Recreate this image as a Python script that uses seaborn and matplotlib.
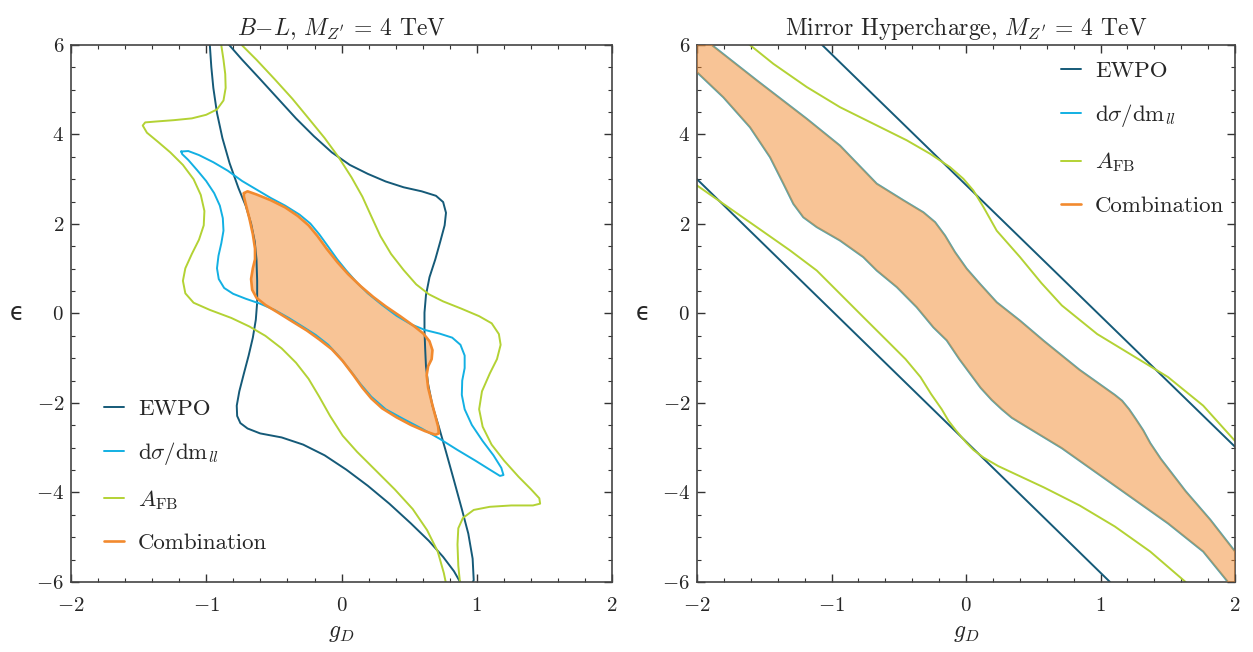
import numpy as np
import matplotlib
matplotlib.use("Agg")
import matplotlib.pyplot as plt
import seaborn as sns
from matplotlib.ticker import MultipleLocator
from matplotlib.colors import to_rgba

# ---- B-L panel contours (g_D, epsilon) ----
bl_ewpo_x = [-0.979, -0.974, -0.963, -0.948, -0.921, -0.881, -0.828, -0.762, -0.709, -0.669,
             -0.642, -0.629, -0.624, -0.624, -0.634, -0.656, -0.687, -0.722, -0.756, -0.775,
             -0.772, -0.748, -0.695, -0.602, -0.443, -0.284, -0.125, 0.035, 0.194, 0.353,
             0.512, 0.645, 0.751, 0.831, 0.884, 0.924, 0.977, 0.969, 0.937, 0.889,
             0.831, 0.772, 0.719, 0.672, 0.640, 0.624, 0.618, 0.613, 0.613, 0.624,
             0.650, 0.693, 0.730, 0.762, 0.772, 0.751, 0.698, 0.592, 0.459, 0.326,
             0.194, 0.061, -0.072, -0.204, -0.337, -0.470, -0.603, -0.735, -0.828, -0.894,
             -0.948, -0.979]
bl_ewpo_y = [6.39, 6.00, 5.51, 5.04, 4.48, 3.92, 3.36, 2.80, 2.41, 2.01,
             1.61, 1.21, 0.73, 0.25, -0.14, -0.54, -0.94, -1.34, -1.74, -2.06,
             -2.29, -2.45, -2.57, -2.68, -2.77, -2.93, -3.17, -3.49, -3.85, -4.25,
             -4.69, -5.08, -5.44, -5.76, -6.04, -6.28, -5.96, -5.48, -4.92, -4.37,
             -3.73, -3.09, -2.53, -2.06, -1.58, -1.18, -0.78, -0.38, 0.02, 0.41,
             0.81, 1.21, 1.61, 1.97, 2.25, 2.49, 2.63, 2.73, 2.82, 2.95,
             3.12, 3.32, 3.60, 3.96, 4.36, 4.80, 5.24, 5.67, 5.99, 6.19,
             6.39, 6.39]

bl_dsig_x = [-1.186, -1.133, -1.054, -0.948, -0.841, -0.735, -0.629, -0.523, -0.417, -0.311,
             -0.231, -0.165, -0.098, -0.032, 0.035, 0.114, 0.194, 0.300, 0.406, 0.512,
             0.618, 0.725, 0.818, 0.879, 0.910, 0.910, 0.892, 0.889, 0.910, 0.963,
             1.043, 1.123, 1.181, 1.197, 1.171, 1.096, 0.990, 0.857, 0.725, 0.592,
             0.459, 0.326, 0.220, 0.141, 0.061, -0.019, -0.098, -0.191, -0.284, -0.390,
             -0.496, -0.603, -0.709, -0.802, -0.868, -0.908, -0.921, -0.910, -0.889, -0.873,
             -0.878, -0.900, -0.942, -1.001, -1.067, -1.133, -1.178, -1.186]
bl_dsig_y = [3.62, 3.63, 3.54, 3.38, 3.19, 2.96, 2.77, 2.58, 2.41, 2.21,
             2.01, 1.77, 1.49, 1.21, 0.96, 0.69, 0.45, 0.19, -0.05, -0.24,
             -0.37, -0.45, -0.54, -0.70, -0.94, -1.22, -1.50, -1.82, -2.14, -2.49,
             -2.85, -3.17, -3.45, -3.61, -3.63, -3.49, -3.29, -3.05, -2.80, -2.57,
             -2.36, -2.14, -1.86, -1.58, -1.26, -0.96, -0.70, -0.48, -0.30, -0.10,
             0.08, 0.22, 0.33, 0.44, 0.57, 0.77, 1.01, 1.29, 1.57, 1.85,
             2.13, 2.41, 2.69, 2.96, 3.20, 3.43, 3.56, 3.62]

bl_afb_x = [-0.828, -0.881, -0.889, -0.873, -0.860, -0.857, -0.873, -0.921, -1.001, -1.107,
            -1.240, -1.372, -1.452, -1.470, -1.439, -1.359, -1.266, -1.173, -1.094, -1.041,
            -1.014, -1.019, -1.054, -1.107, -1.155, -1.173, -1.155, -1.094, -0.974, -0.815,
            -0.682, -0.563, -0.443, -0.337, -0.244, -0.165, -0.085, 0.008, 0.114, 0.247,
            0.393, 0.526, 0.632, 0.711, 0.756, 0.778, 0.831, 0.879, 0.863, 0.857,
            0.863, 0.897, 0.977, 1.096, 1.255, 1.415, 1.468, 1.462, 1.401, 1.309,
            1.202, 1.109, 1.043, 1.017, 1.038, 1.096, 1.149, 1.176, 1.163, 1.110,
            1.017, 0.884, 0.751, 0.645, 0.552, 0.459, 0.366, 0.287, 0.220, 0.154,
            0.074, -0.019, -0.125, -0.244, -0.364, -0.496, -0.629, -0.735, -0.788, -0.828]
bl_afb_y = [6.47, 6.23, 5.99, 5.67, 5.35, 5.04, 4.76, 4.56, 4.44, 4.36,
            4.32, 4.29, 4.27, 4.20, 4.04, 3.84, 3.60, 3.32, 3.00, 2.65,
            2.29, 1.97, 1.65, 1.33, 1.01, 0.73, 0.45, 0.24, 0.08, -0.10,
            -0.29, -0.50, -0.78, -1.10, -1.46, -1.86, -2.29, -2.73, -3.09, -3.49,
            -3.93, -4.37, -4.84, -5.32, -5.80, -6.12, -6.36, -6.12, -5.64, -5.16,
            -4.80, -4.57, -4.39, -4.32, -4.29, -4.29, -4.25, -4.13, -3.93, -3.65,
            -3.29, -2.93, -2.53, -2.14, -1.74, -1.34, -1.02, -0.70, -0.46, -0.22,
            -0.06, 0.11, 0.27, 0.43, 0.65, 0.97, 1.33, 1.73, 2.17, 2.61,
            3.04, 3.48, 3.92, 4.36, 4.80, 5.24, 5.67, 5.99, 6.23, 6.47]

bl_comb_x = [-0.722, -0.695, -0.629, -0.523, -0.417, -0.324, -0.244, -0.178, -0.111, -0.032,
             0.048, 0.141, 0.234, 0.326, 0.433, 0.539, 0.605, 0.650, 0.672, 0.666,
             0.640, 0.629, 0.640, 0.666, 0.693, 0.714, 0.719, 0.693, 0.618, 0.512,
             0.406, 0.300, 0.220, 0.154, 0.088, 0.008, -0.072, -0.165, -0.257, -0.364,
             -0.470, -0.563, -0.629, -0.661, -0.669, -0.656, -0.640, -0.640, -0.656, -0.682,
             -0.709, -0.722, -0.722]
bl_comb_y = [2.69, 2.73, 2.66, 2.53, 2.37, 2.18, 1.97, 1.73, 1.45, 1.15,
             0.88, 0.61, 0.37, 0.16, -0.06, -0.29, -0.45, -0.62, -0.82, -1.02,
             -1.18, -1.38, -1.66, -1.98, -2.29, -2.53, -2.68, -2.71, -2.63, -2.49,
             -2.32, -2.12, -1.90, -1.66, -1.38, -1.06, -0.80, -0.58, -0.38, -0.18,
             0.02, 0.19, 0.35, 0.53, 0.77, 1.01, 1.21, 1.45, 1.77, 2.13,
             2.45, 2.61, 2.69]

# ---- Mirror hypercharge panel ----
mh_ewpo_hi_x = [-1.07, 2.0]
mh_ewpo_hi_y = [6.0, -2.98]
mh_ewpo_lo_x = [-2.0, 1.07]
mh_ewpo_lo_y = [3.0, -6.0]

mh_afb_hi_x = [-1.619, -1.433, -1.184, -0.937, -0.689, -0.441, -0.268, -0.119, -0.020, 0.054,
               0.129, 0.228, 0.401, 0.560, 0.712, 0.975, 1.238, 1.501, 1.763, 2.0]
mh_afb_hi_y = [6.03, 5.58, 5.06, 4.61, 4.24, 3.87, 3.57, 3.27, 3.01, 2.75,
               2.38, 1.85, 1.26, 0.68, 0.18, -0.46, -0.94, -1.42, -2.06, -2.85]
mh_afb_lo_x = [-2.0, -1.804, -1.556, -1.309, -1.110, -0.937, -0.764, -0.590, -0.450, -0.339,
               -0.260, -0.181, -0.130, -0.076, 0.0, 0.055, 0.130, 0.239, 0.581, 0.844,
               1.106, 1.369, 1.632]
mh_afb_lo_y = [2.86, 2.45, 1.93, 1.41, 0.96, 0.44, -0.08, -0.60, -1.02, -1.42,
               -1.80, -2.14, -2.40, -2.61, -2.88, -3.05, -3.22, -3.41, -3.89, -4.29,
               -4.76, -5.32, -6.0]

mh_comb_hi_x = [-1.968, -1.903, -1.556, -1.184, -0.937, -0.664, -0.466, -0.317, -0.230, -0.156,
                -0.082, 0.005, 0.104, 0.228, 0.401, 0.581, 0.844, 1.106, 1.160, 1.212,
                1.260, 1.317, 1.370, 1.448, 1.632, 1.816, 2.0]
mh_comb_hi_y = [6.10, 6.03, 5.21, 4.35, 3.75, 2.90, 2.53, 2.26, 2.04, 1.74,
                1.37, 1.00, 0.66, 0.25, -0.16, -0.62, -1.26, -1.82, -1.95, -2.14,
                -2.35, -2.61, -2.90, -3.25, -3.97, -4.61, -5.32]
mh_comb_lo_x = [-2.0, -1.804, -1.606, -1.457, -1.358, -1.284, -1.210, -1.110, -0.937, -0.764,
                -0.664, -0.515, -0.367, -0.243, -0.144, -0.050, 0.108, 0.190, 0.265, 0.340,
                0.449, 0.712, 0.975, 1.238, 1.501, 1.763, 1.947]
mh_comb_lo_y = [5.39, 4.83, 4.16, 3.49, 2.90, 2.45, 2.15, 1.93, 1.63, 1.26,
                0.96, 0.59, 0.14, -0.31, -0.60, -1.02, -1.66, -1.93, -2.14, -2.33,
                -2.53, -3.01, -3.57, -4.13, -4.69, -5.32, -6.0]

c_ewpo = "#155a78"
c_dsig = "#12b0e3"
c_afb = "#b3d234"
c_comb = "#f28a2e"

sns.set_theme(style="ticks")
plt.rcParams["font.family"] = ["cmr10", "DejaVu Serif"]
plt.rcParams["mathtext.fontset"] = "cm"
plt.rcParams["axes.formatter.use_mathtext"] = True
plt.rcParams["axes.unicode_minus"] = True

fig = plt.figure(figsize=(12.53, 6.52), dpi=100)
ax1 = fig.add_axes([0.0567, 0.1074, 0.4318, 0.8236])
ax2 = fig.add_axes([0.5563, 0.1074, 0.4294, 0.8236])


def curve(ax, x, y, color, label=None, lw=1.4):
    sns.lineplot(x=x, y=y, sort=False, estimator=None, color=color, lw=lw,
                 label=label, ax=ax, legend=False)


# left panel
ax1.fill(bl_comb_x, bl_comb_y, color=c_comb, alpha=0.5, lw=0, zorder=1)
curve(ax1, bl_ewpo_x, bl_ewpo_y, c_ewpo, "EWPO")
curve(ax1, bl_dsig_x, bl_dsig_y, c_dsig, r"d$\sigma$/dm$_{ll}$")
curve(ax1, bl_afb_x, bl_afb_y, c_afb, r"$A_{\rm FB}$")
curve(ax1, bl_comb_x, bl_comb_y, c_comb, "Combination", lw=1.9)

# right panel
poly_x = mh_comb_hi_x + [2.0, 2.0] + mh_comb_lo_x[::-1] + [-2.0]
poly_y = mh_comb_hi_y + [-5.32, -6.0] + mh_comb_lo_y[::-1] + [6.10]
curve(ax2, mh_ewpo_hi_x, mh_ewpo_hi_y, c_ewpo, "EWPO")
curve(ax2, mh_ewpo_lo_x, mh_ewpo_lo_y, c_ewpo)
curve(ax2, mh_comb_hi_x, mh_comb_hi_y, c_dsig, r"d$\sigma$/dm$_{ll}$")
curve(ax2, mh_comb_lo_x, mh_comb_lo_y, c_dsig)
curve(ax2, mh_afb_hi_x, mh_afb_hi_y, c_afb, r"$A_{\rm FB}$")
curve(ax2, mh_afb_lo_x, mh_afb_lo_y, c_afb)
ax2.fill(poly_x, poly_y, facecolor=to_rgba(c_comb, 0.5), lw=0, zorder=3)
ax2.plot(mh_comb_hi_x, mh_comb_hi_y, color=c_comb, alpha=0.35, lw=1.4, zorder=4)
ax2.plot(mh_comb_lo_x, mh_comb_lo_y, color=c_comb, alpha=0.35, lw=1.4, zorder=4)
ax2.plot([], [], color=c_comb, lw=1.9, label="Combination")

titles = [r"$B{-}L$, $M_{Z^{\prime}}$ = 4 TeV",
          r"Mirror Hypercharge, $M_{Z^{\prime}}$ = 4 TeV"]
for ax, title in zip([ax1, ax2], titles):
    ax.set_xlim(-2, 2)
    ax.set_ylim(-6, 6)
    ax.xaxis.set_major_locator(MultipleLocator(1))
    ax.xaxis.set_minor_locator(MultipleLocator(0.2))
    ax.yaxis.set_major_locator(MultipleLocator(2))
    ax.yaxis.set_minor_locator(MultipleLocator(0.5))
    ax.tick_params(which="both", direction="in", top=True, right=True,
                   labelsize=15, color="#333333")
    ax.tick_params(which="major", length=6, width=1)
    ax.tick_params(which="minor", length=3, width=0.8)
    ax.tick_params(axis="x", which="major", pad=11)
    ax.tick_params(axis="y", which="major", pad=5)
    for s in ax.spines.values():
        s.set_color("#444444")
        s.set_linewidth(1.2)
    ax.set_title(title, fontsize=17, pad=7)
    ax.set_xlabel(r"$g_D$", fontsize=17, labelpad=5)
    ax.set_ylabel("ϵ", fontsize=17, rotation=0, labelpad=14, family="DejaVu Sans",
                  va="center")

leg_kw = dict(frameon=False, fontsize=16.5, handlelength=0.9, handletextpad=0.6,
              labelspacing=0.92)
ax1.legend(loc="lower left", bbox_to_anchor=(0.022, 0.015), **leg_kw)
ax2.legend(loc="upper right", bbox_to_anchor=(1.018, 1.008), **leg_kw)

fig.savefig("out.png", dpi=100)
